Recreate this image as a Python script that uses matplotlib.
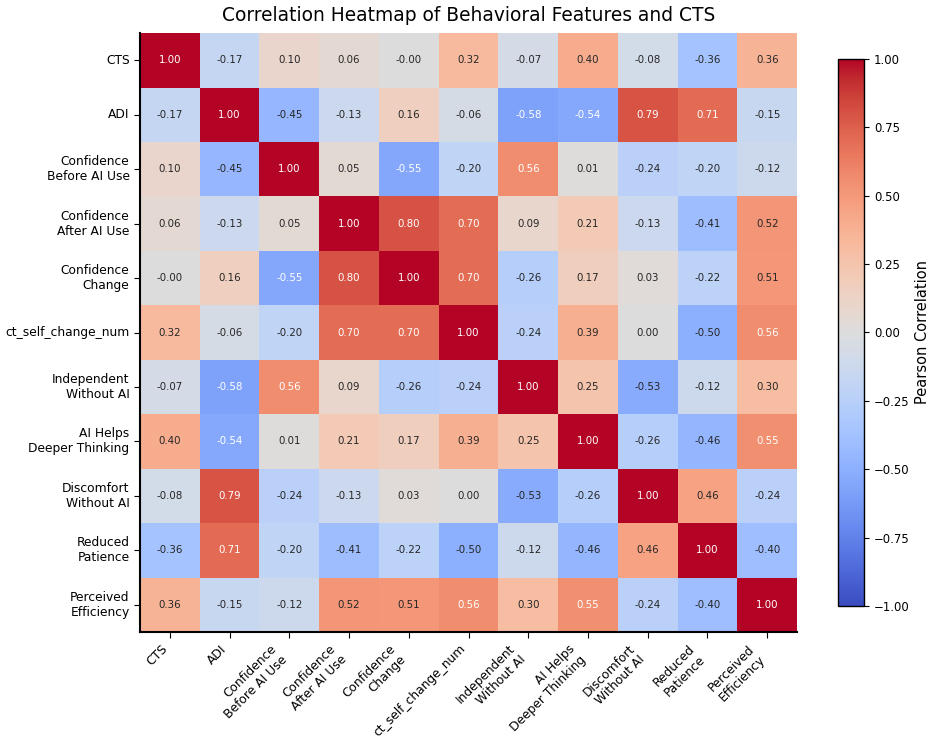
import numpy as np
import matplotlib
matplotlib.use("Agg")
import matplotlib.pyplot as plt
import seaborn as sns

# feature labels (same order on both axes)
labels = [
    "CTS", "ADI", "Confidence\nBefore AI Use", "Confidence\nAfter AI Use",
    "Confidence\nChange", "ct_self_change_num", "Independent\nWithout AI",
    "AI Helps\nDeeper Thinking", "Discomfort\nWithout AI", "Reduced\nPatience",
    "Perceived\nEfficiency",
]

# correlation rows
cts = [1.00, -0.17, 0.10, 0.06, -0.00, 0.32, -0.07, 0.40, -0.08, -0.36, 0.36]
adi = [-0.17, 1.00, -0.45, -0.13, 0.16, -0.06, -0.58, -0.54, 0.79, 0.71, -0.15]
conf_before = [0.10, -0.45, 1.00, 0.05, -0.55, -0.20, 0.56, 0.01, -0.24, -0.20, -0.12]
conf_after = [0.06, -0.13, 0.05, 1.00, 0.80, 0.70, 0.09, 0.21, -0.13, -0.41, 0.52]
conf_change = [-0.00, 0.16, -0.55, 0.80, 1.00, 0.70, -0.26, 0.17, 0.03, -0.22, 0.51]
ct_self = [0.32, -0.06, -0.20, 0.70, 0.70, 1.00, -0.24, 0.39, 0.00, -0.50, 0.56]
independent = [-0.07, -0.58, 0.56, 0.09, -0.26, -0.24, 1.00, 0.25, -0.53, -0.12, 0.30]
ai_helps = [0.40, -0.54, 0.01, 0.21, 0.17, 0.39, 0.25, 1.00, -0.26, -0.46, 0.55]
discomfort = [-0.08, 0.79, -0.24, -0.13, 0.03, 0.00, -0.53, -0.26, 1.00, 0.46, -0.24]
patience = [-0.36, 0.71, -0.20, -0.41, -0.22, -0.50, -0.12, -0.46, 0.46, 1.00, -0.40]
efficiency = [0.36, -0.15, -0.12, 0.52, 0.51, 0.56, 0.30, 0.55, -0.24, -0.40, 1.00]

corr = np.array([cts, adi, conf_before, conf_after, conf_change, ct_self,
                 independent, ai_helps, discomfort, patience, efficiency])

fig = plt.figure(figsize=(9.36, 7.43), dpi=100)
ax = fig.add_axes([0.1496, 0.1494, 0.702, 0.806])
cax = fig.add_axes([0.8955, 0.184, 0.028, 0.737])

sns.heatmap(corr, ax=ax, cbar_ax=cax, cmap="coolwarm", vmin=-1, vmax=1,
            annot=True, fmt=".2f", annot_kws={"size": 7.4},
            linewidths=0,
            xticklabels=labels, yticklabels=labels)

# keep left and bottom frame like the original
for side in ["left", "bottom"]:
    ax.spines[side].set_visible(True)
    ax.spines[side].set_color("black")
    ax.spines[side].set_linewidth(1.5)

ax.set_xticklabels(labels, rotation=45, ha="right", fontsize=8.8)
ax.set_yticklabels(labels, rotation=0, fontsize=8.8)
ax.tick_params(length=4)

ax.set_title("Correlation Heatmap of Behavioral Features and CTS", fontsize=13.4, pad=9)

cbar = ax.collections[0].colorbar
cbar.set_ticks([-1, -0.75, -0.5, -0.25, 0, 0.25, 0.5, 0.75, 1])
cbar.ax.set_yticklabels(["\u22121.00", "\u22120.75", "\u22120.50", "\u22120.25", "0.00",
                         "0.25", "0.50", "0.75", "1.00"], fontsize=8.4)
cbar.set_label("Pearson Correlation", fontsize=10.5)
cbar.outline.set_visible(True)
cbar.outline.set_edgecolor("black")
cbar.outline.set_linewidth(1)

fig.savefig("out.png", dpi=100)
